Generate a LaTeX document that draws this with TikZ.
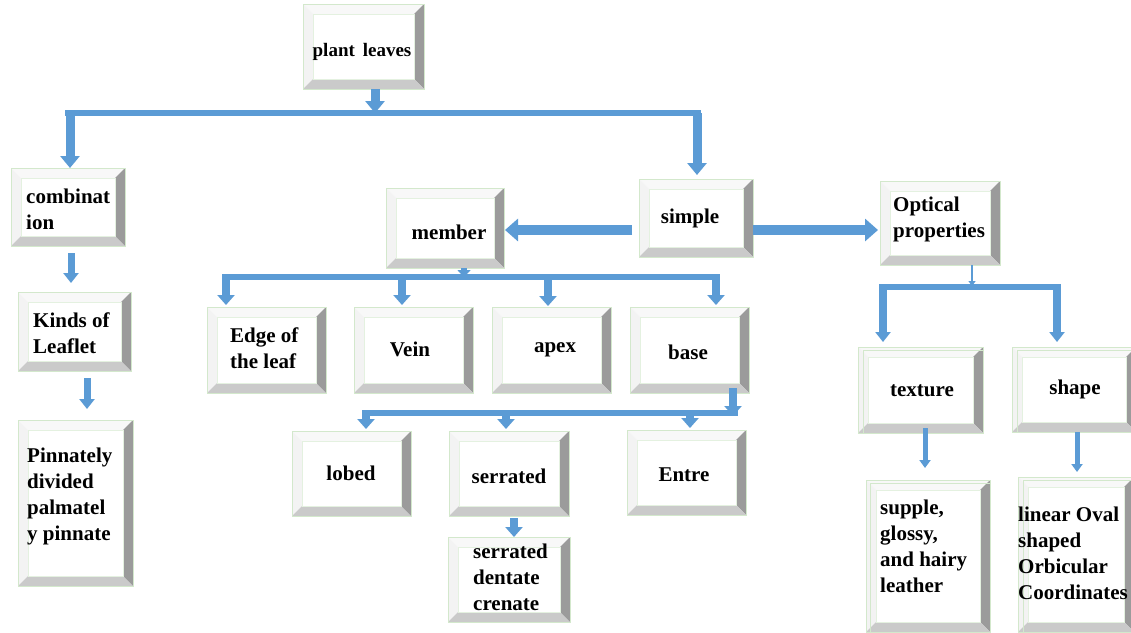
\documentclass[tikz,border=0pt]{standalone}
\usepackage{fontspec}
\setmainfont{Liberation Serif}
\usetikzlibrary{arrows.meta}
\definecolor{ab}{HTML}{5B9BD5}
\definecolor{boxedge}{HTML}{D3E8CC}
\definecolor{bevR}{HTML}{9B9B9B}
\definecolor{bevB}{HTML}{CACACA}
\definecolor{bevT}{HTML}{F8F8F8}
\definecolor{bevL}{HTML}{F3F3F3}
\newcommand{\bbox}[6][10]{%
 \pgfmathsetmacro\xa{#3+#1}\pgfmathsetmacro\xb{#5-#1}%
 \pgfmathsetmacro\ya{#4+#1}\pgfmathsetmacro\yb{#6-#1}%
 \pgfmathsetmacro\bw{#5-#3}\pgfmathsetmacro\bh{#6-#4}%
 \pgfmathsetmacro\cx{(#3+#5)/2}\pgfmathsetmacro\cy{(#4+#6)/2}%
 \fill[white] (#3,#4) rectangle (#5,#6);
 \fill[bevT] (#3,#4) -- (#5,#4) -- (\xb,\ya) -- (\xa,\ya) -- cycle;
 \fill[bevL] (#3,#4) -- (\xa,\ya) -- (\xa,\yb) -- (#3,#6) -- cycle;
 \fill[bevR] (#5,#4) -- (#5,#6) -- (\xb,\yb) -- (\xb,\ya) -- cycle;
 \fill[bevB] (#3,#6) -- (#5,#6) -- (\xb,\yb) -- (\xa,\yb) -- cycle;
 \draw[boxedge, line width=0.8] (#3,#4) rectangle (#5,#6);
 \draw[boxedge!60, line width=0.5] (\xa,\ya) rectangle (\xb,\yb);
 \node[boxnode, minimum width=\bw pt, minimum height=\bh pt] (#2) at (\cx,\cy) {};
}
\begin{document}
\begin{tikzpicture}[x=1pt,y=-1pt,
  boxnode/.style={inner sep=0pt, outer sep=0pt, draw=none},
  txt/.style={font=\fontsize{21}{26}\selectfont\bfseries, inner sep=0pt, align=left, text=black},
  bar/.style={ab, line width=5.5pt},
  arrL/.style={ab, line width=9pt, -{Triangle[width=19pt,length=12pt]}},
  arrH/.style={ab, line width=10pt, -{Triangle[width=22pt,length=13pt]}},
  arrK/.style={ab, line width=8pt, -{Triangle[width=17pt,length=10pt]}},
  arrM/.style={ab, line width=7pt, -{Triangle[width=15pt,length=10pt]}},
  arrS/.style={ab, line width=5pt, -{Triangle[width=11pt,length=8pt]}},
  arrT/.style={ab, line width=2.5pt, -{Triangle[width=7pt,length=5pt]}}]
\useasboundingbox (0,0) rectangle (1131,632);
\fill[white] (0,0) rectangle (1131,632);

% boxes
\bbox{pl}{303}{4}{424}{89}
\bbox{comb}{11}{168}{125}{246}
\bbox{kind}{18}{292}{131}{371}
\bbox{pinn}{18}{420}{133}{586}
\bbox{memb}{386}{188}{504}{268}
\bbox{simp}{639}{179}{753}{257}
\bbox{opt}{880}{181}{1000}{265}
\bbox{edgeleaf}{207}{307}{326}{393}
\bbox{vein}{354}{307}{473}{393}
\bbox{apex}{492}{307}{611}{393}
\bbox{base}{630}{307}{749}{393}
\bbox{lobed}{292}{431}{411}{516}
\bbox{serr}{449}{431}{569}{516}
\bbox{entre}{627}{430}{746}{515}
\bbox{sdc}{448}{537}{570}{622}
\bbox{texture}{858}{347}{983}{433}
\draw[boxedge, line width=0.6] (863,350) rectangle (983,433);
\bbox{shape}{1012}{347}{1136}{432}
\draw[boxedge, line width=0.6] (1017,350) rectangle (1136,432);
\bbox{supp}{866}{480}{990}{632}
\draw[boxedge, line width=0.6] (870,483) rectangle (990,632);
\bbox{lin}{1018}{477}{1134}{632}
\draw[boxedge, line width=0.6] (1023,480) rectangle (1134,632);

% texts
\node[txt, font=\fontsize{19}{24}\selectfont\bfseries] (plT) at (362,52) {plant\, leaves};
\node[txt, anchor=west] (combT) at (26,209.5) {combinat\\ion};
\node[txt, anchor=west] (kindT) at (33,333) {Kinds of\\Leaflet};
\node[txt, anchor=west] (pinnT) at (27,496) {Pinnately\\divided\\palmatel\\y pinnate};
\node[txt] (membT) at (449,232) {member};
\node[txt] (simpT) at (690,218) {simple};
\node[txt, anchor=west] (optT) at (893,219) {Optical\\properties};
\node[txt, anchor=west] (edgeT) at (230,348) {Edge of\\the leaf};
\node[txt] (veinT) at (410,349) {Vein};
\node[txt] (apexT) at (555,350) {apex};
\node[txt] (baseT) at (688,352) {base};
\node[txt] (lobedT) at (351,473) {lobed};
\node[txt] (serrT) at (509,476) {serrated};
\node[txt] (entreT) at (684,475) {Entre};
\node[txt, anchor=west] (sdcT) at (473,577) {serrated\\dentate\\crenate};
\node[txt] (textureT) at (922,391) {texture};
\node[txt] (shapeT) at (1075,389) {shape};
\node[txt, anchor=west] (suppT) at (880,546) {supple,\\glossy,\\and hairy\\leather};
\node[txt, anchor=west] (linT) at (1018,553) {linear Oval\\shaped\\Orbicular\\Coordinates};

% connector coordinates
\coordinate (j1) at (375,113);
\coordinate (b1l) at (65,113);
\coordinate (b1r) at (701,113);
\coordinate (b1a) at (70,113);
\coordinate (b1b) at (697,113);
\coordinate (v71) at (71,0);
\coordinate (v87) at (87,0);
\coordinate (h1) at (0,230);
\coordinate (j2) at (464,277);
\coordinate (b2l) at (222,277);
\coordinate (b2r) at (720,277);
\coordinate (b2a) at (226,277);
\coordinate (b2b) at (402,277);
\coordinate (b2c) at (548,277);
\coordinate (b2d) at (716,277);
\coordinate (j3) at (733,416);
\coordinate (b3l) at (362,413);
\coordinate (b3r) at (738,413);
\coordinate (b3a) at (366,413);
\coordinate (b3b) at (506,413);
\coordinate (b3c) at (690,413);
\coordinate (v514) at (514,0);
\coordinate (j4) at (972,286);
\coordinate (b4l) at (879,287);
\coordinate (b4r) at (1061,287);
\coordinate (b4a) at (883,287);
\coordinate (b4b) at (1057,287);
\coordinate (v925) at (925,0);
\coordinate (v1077) at (1077,0);

% connectors
\draw[bar] (b1l) -- (b1r);
\draw[arrS, line width=9pt, -{Triangle[width=19pt,length=12pt]}] (pl.south -| j1) -- (j1);
\draw[arrL] (b1a) -- (b1a |- comb.north);
\draw[arrL, shorten >=4pt] (b1b) -- (b1b |- simp.north);
\draw[arrM, shorten <=7pt, shorten >=9pt] (comb.south -| v71) -- (kind.north -| v71);
\draw[arrM, shorten <=7pt, shorten >=11pt] (kind.south -| v87) -- (pinn.north -| v87);
\draw[arrH, shorten <=7pt, shorten >=1pt] (simp.west |- h1) -- (memb.east |- h1);
\draw[arrH, shorten >=2pt] (simp.east |- h1) -- (opt.west |- h1);

\draw[bar] (b2l) -- (b2r);
\draw[arrS, line width=6pt, -{Triangle[width=13pt,length=7pt]}] (memb.south -| j2) -- (j2);
\draw[arrK, shorten >=2pt] (b2a) -- (b2a |- edgeleaf.north);
\draw[arrK, shorten >=2pt] (b2b) -- (b2b |- vein.north);
\draw[arrK, shorten >=1pt] (b2c) -- (b2c |- apex.north);
\draw[arrK, shorten >=2pt] (b2d) -- (b2d |- base.north);

\draw[bar] (b3l) -- (b3r);
\draw[arrK, shorten <=-5pt] (base.south -| j3) -- (j3);
\draw[arrK, shorten >=2pt] (b3a) -- (b3a |- lobed.north);
\draw[arrK, shorten >=2pt] (b3b) -- (b3b |- serr.north);
\draw[arrK, shorten >=2pt] (b3c) -- (b3c |- entre.north);
\draw[arrK, shorten <=2pt] (serr.south -| v514) -- (sdc.north -| v514);

\draw[bar] (b4l) -- (b4r);
\draw[arrT] (opt.south -| j4) -- (j4);
\draw[arrM, line width=8pt, shorten >=5pt] (b4a) -- (b4a |- texture.north);
\draw[arrM, line width=8pt, shorten >=5pt] (b4b) -- (b4b |- shape.north);
\draw[arrS, shorten <=-5pt, shorten >=12pt] (texture.south -| v925) -- (supp.north -| v925);
\draw[arrS, shorten >=5pt] (shape.south -| v1077) -- (lin.north -| v1077);
\end{tikzpicture}
\end{document}
